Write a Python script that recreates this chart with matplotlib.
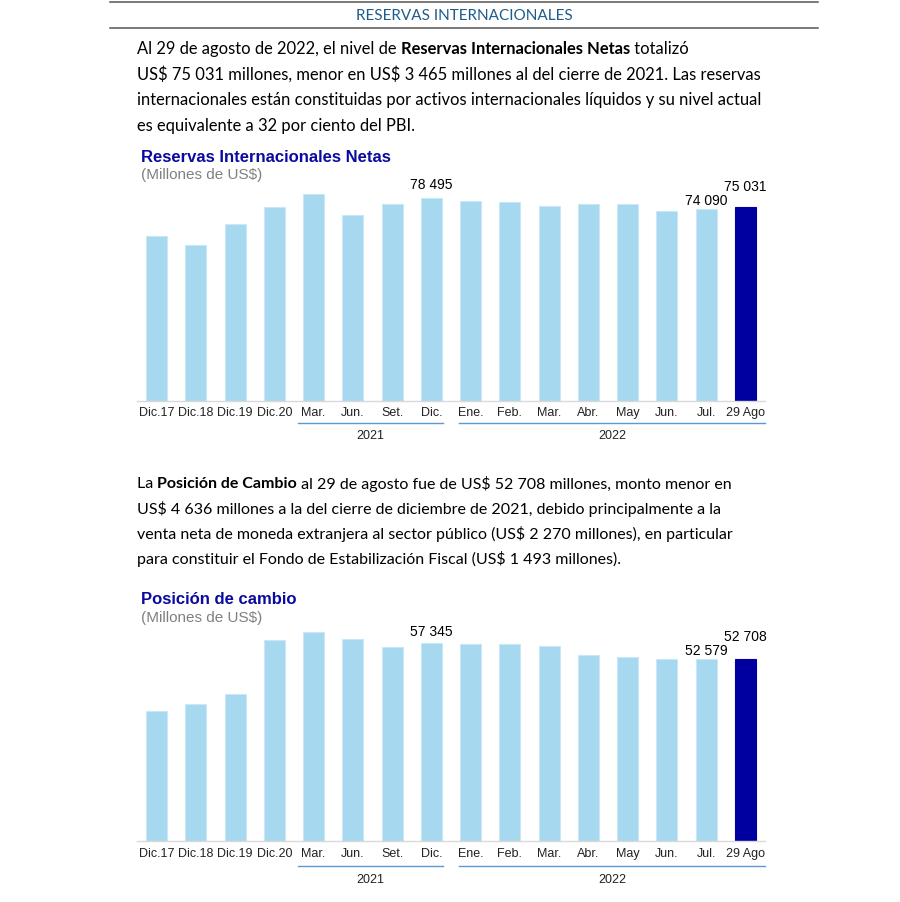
import matplotlib
matplotlib.use("Agg")
import matplotlib.pyplot as plt

# Figure size (pixels at 100 dpi)
W_PX = 900
H_PX = 903
TEXT_FONT = ["Lato", "DejaVu Sans"]
CHART_FONT = ["Liberation Sans", "DejaVu Sans"]

# Data
periods = ["Dic.17", "Dic.18", "Dic.19", "Dic.20", "Mar.", "Jun.", "Set.", "Dic.",
           "Ene.", "Feb.", "Mar.", "Abr.", "May", "Jun.", "Jul.", "29 Ago"]
reservas = [63621, 60121, 68316, 74707, 80000, 71892, 76020, 78495,
            77340, 76950, 75400, 76070, 76180, 73470, 74090, 75031]
posicion = [37519, 39614, 42619, 58258, 60360, 58500, 56020, 57345,
            56970, 56880, 56480, 53880, 53210, 52720, 52579, 52708]
labeled_reservas = [7, 14, 15]
labeled_posicion = [7, 14, 15]
year_groups = [("2021", 3.6, 7.3), ("2022", 7.7, 15.5)]

header_title = "RESERVAS INTERNACIONALES"
para1 = [
    [("Al 29 de agosto de 2022, el nivel de ", False), ("Reservas Internacionales Netas", True), (" totalizó", False)],
    [("US$ 75 031 millones, menor en US$ 3 465 millones al del cierre de 2021. Las reservas", False)],
    [("internacionales están constituidas por activos internacionales líquidos y su nivel actual", False)],
    [("es equivalente a 32 por ciento del PBI.", False)],
]
para2 = [
    [("La ", False), ("Posición de Cambio", True), (" al 29 de agosto fue de US$ 52 708 millones, monto menor en", False)],
    [("US$ 4 636 millones a la del cierre de diciembre de 2021, debido principalmente a la", False)],
    [("venta neta de moneda extranjera al sector público (US$ 2 270 millones), en particular", False)],
    [("para constituir el Fondo de Estabilización Fiscal (US$ 1 493 millones).", False)],
]

LIGHT_BAR = "#A6D8F0"
DARK_BAR = "#0000A0"
TITLE_BLUE = "#0A0AA0"
HEAD_BLUE = "#1F5C8B"
YEAR_LINE = "#5B9BD5"


def fx(px):
    return px / W_PX


def fy(py):
    return 1 - py / H_PX


def seg_width(fig, renderer, txt, bold, size):
    # measure including spaces by wrapping in bars
    a = fig.text(0, 0, "|" + txt + "|", fontsize=size, family=TEXT_FONT,
                 fontweight="bold" if bold else "normal", parse_math=False)
    b = fig.text(0, 0, "||", fontsize=size, family=TEXT_FONT,
                 fontweight="bold" if bold else "normal", parse_math=False)
    w = a.get_window_extent(renderer).width - b.get_window_extent(renderer).width
    a.remove()
    b.remove()
    return w


def rich_paragraph(fig, x_px, y_px, lines, size, line_h):
    renderer = fig.canvas.get_renderer()
    for k, parts in enumerate(lines):
        x = x_px
        y = y_px + k * line_h
        for txt, bold in parts:
            fig.text(fx(x), fy(y), txt, fontsize=size, family=TEXT_FONT,
                     fontweight="bold" if bold else "normal",
                     ha="left", va="center", color="black", parse_math=False)
            x += seg_width(fig, renderer, txt, bold, size)


def bar_chart(fig, left_px, right_px, top_px, base_px, values, labeled, offsets, ymax,
              title, title_y, sub_y, line_y, year_y):
    ax = fig.add_axes([fx(left_px), fy(base_px), fx(right_px - left_px), (base_px - top_px) / H_PX])
    colors = [LIGHT_BAR] * (len(values) - 1) + [DARK_BAR]
    edges = ["#C9E7F5"] * (len(values) - 1) + [DARK_BAR]
    x = list(range(len(values)))
    ax.bar(x, values, width=0.54, color=colors, edgecolor=edges, linewidth=0.8)
    ax.set_xlim(-0.5, len(values) - 0.5)
    ax.set_ylim(0, ymax)
    ax.set_yticks([])
    ax.set_xticks(x)
    ax.set_xticklabels(periods, fontsize=9, family=CHART_FONT, color="#222222")
    ax.tick_params(axis="x", length=0, pad=4)
    for s in ["top", "right", "left"]:
        ax.spines[s].set_visible(False)
    ax.spines["bottom"].set_color("#D9D9D9")
    ax.spines["bottom"].set_linewidth(1.0)
    ax.patch.set_alpha(0)

    for i, off in zip(labeled, offsets):
        ax.annotate(f"{values[i]:,}".replace(",", " "), xy=(i, values[i]), xytext=(0, off),
                    textcoords="offset points", ha="center", va="center",
                    fontsize=10, family=CHART_FONT, color="black")

    h = base_px - top_px
    tr = ax.get_xaxis_transform()
    for name, x0, x1 in year_groups:
        ax.plot([x0, x1], [(base_px - line_y) / h] * 2, transform=tr, color=YEAR_LINE,
                linewidth=1.0, clip_on=False)
        ax.text((x0 + x1) / 2, (base_px - year_y) / h, name, transform=tr, ha="center",
                va="center", fontsize=9, family=CHART_FONT, color="#222222")

    fig.text(fx(141), fy(title_y), title, fontsize=12, fontweight="bold", family=CHART_FONT,
             color=TITLE_BLUE, ha="left", va="center")
    fig.text(fx(141), fy(sub_y), "(Millones de US$)", fontsize=11, family=CHART_FONT,
             color="#808080", ha="left", va="center", parse_math=False)
    return ax


fig = plt.figure(figsize=(W_PX / 100, H_PX / 100), dpi=100)
fig.patch.set_facecolor("white")

# header
fig.add_artist(plt.Line2D([fx(110), fx(818)], [fy(3), fy(3)], color="#555555", linewidth=1.1))
fig.add_artist(plt.Line2D([fx(110), fx(818)], [fy(29), fy(29)], color="#555555", linewidth=1.1))
fig.text(fx(464), fy(16), header_title, fontsize=11, family=TEXT_FONT, color=HEAD_BLUE,
         ha="center", va="center")

rich_paragraph(fig, 137, 49, para1, 11.9, 25.5)
rich_paragraph(fig, 137, 484, para2, 11.5, 25.0)

bar_chart(fig, 137, 765, 179.3, 401.5, reservas, labeled_reservas, [9.7, 6.5, 14.9], 86000,
          "Reservas Internacionales Netas", 157, 175, 424, 436)
bar_chart(fig, 137, 765, 620, 842, posicion, labeled_posicion, [8.4, 6.5, 16.3], 64200,
          "Posición de cambio", 600, 618, 867, 880)

fig.savefig("out.png", dpi=100)
